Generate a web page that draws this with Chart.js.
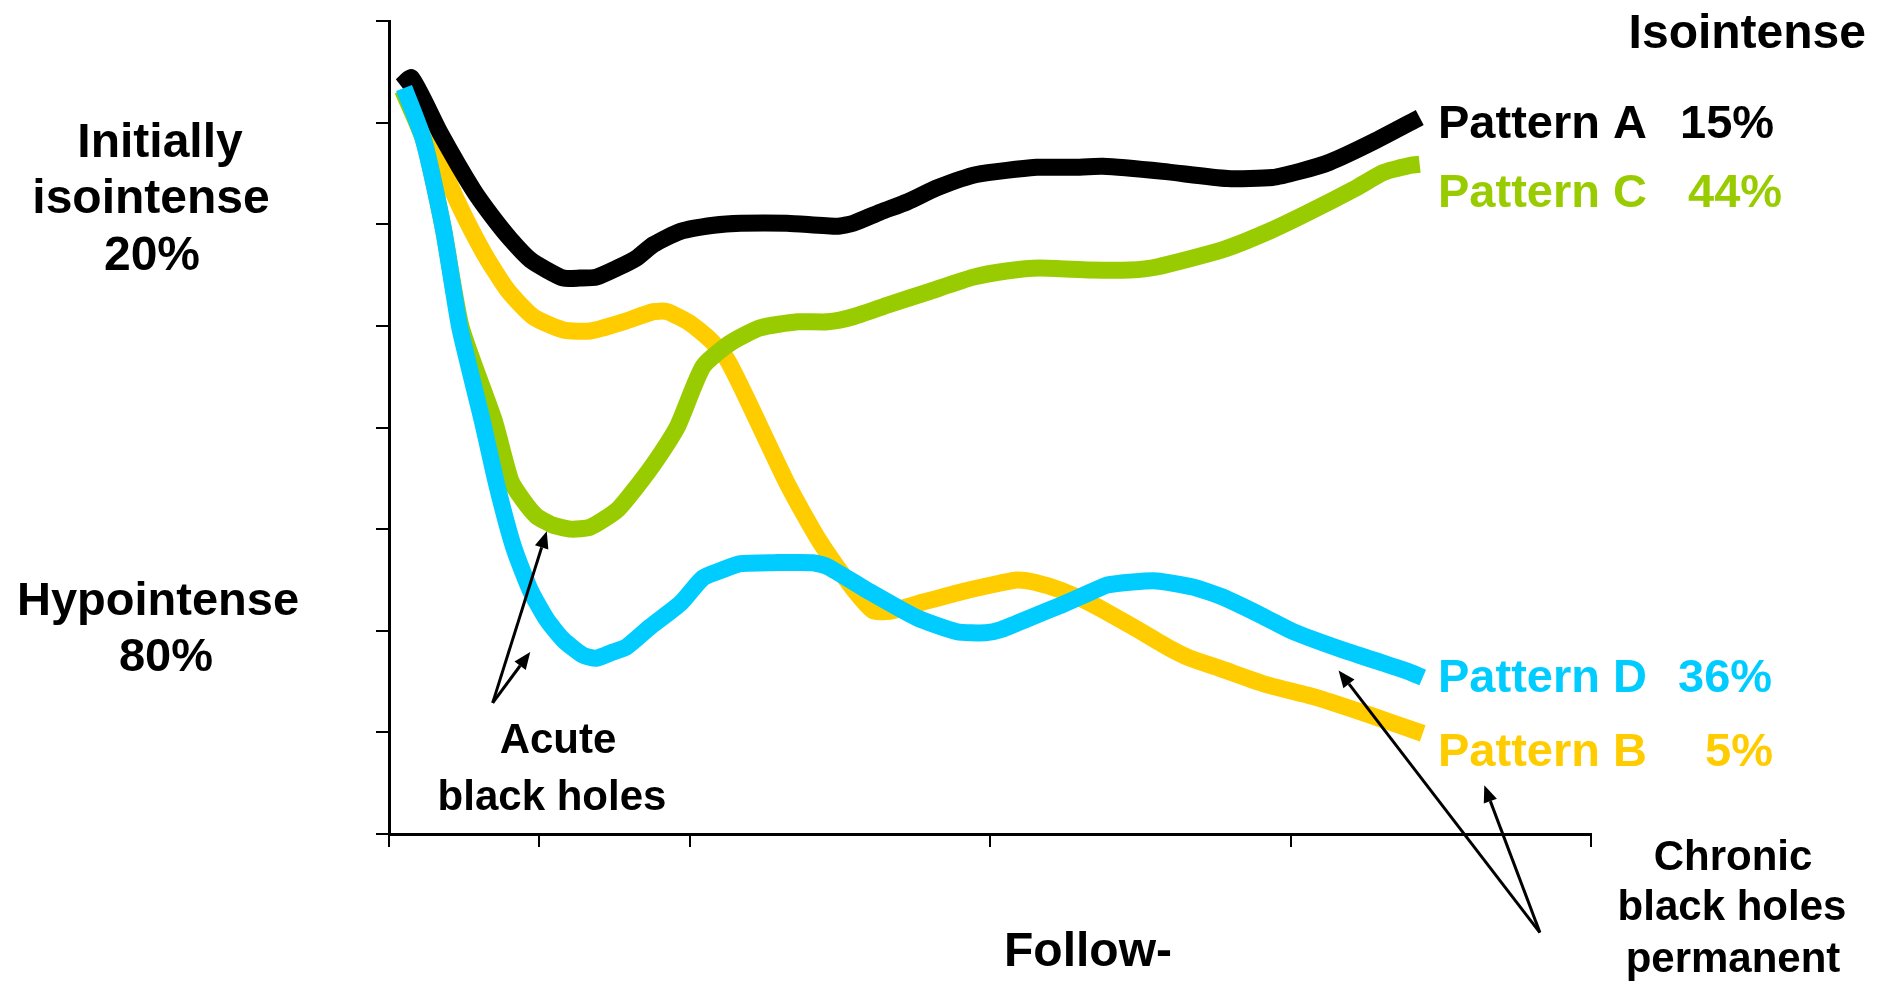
<!DOCTYPE html>
<html>
<head>
<meta charset="utf-8">
<title>Black hole evolution patterns</title>
<script src="https://cdn.jsdelivr.net/npm/chart.js@4.4.1/dist/chart.umd.min.js"></script>
<style>
  html, body { margin: 0; padding: 0; background: #ffffff; }
  #wrap { position: relative; width: 1890px; height: 982px; }
</style>
</head>
<body>
<div id="wrap"><canvas id="chart" width="1890" height="982"></canvas></div>
<script>
// Follow-up time (arbitrary units) and lesion intensity (0 = hypointense, 8 = isointense)
const timeA = [0.08,0.15,0.34,0.56,0.69,0.81,0.94,1.05,1.16,1.27,1.38,1.52,1.65,1.76,1.94,2.16,2.34,2.65,2.98,3.09,3.27,3.45,3.65,3.91,4.31,4.55,4.75,5.15,5.58,5.88,6.06,6.26,6.55,6.86];
const patternA = [7.36,7.44,6.90,6.34,6.07,5.85,5.65,5.55,5.47,5.47,5.48,5.57,5.67,5.80,5.93,5.99,6.01,6.01,5.98,6.01,6.12,6.22,6.36,6.49,6.56,6.56,6.57,6.52,6.45,6.46,6.52,6.61,6.81,7.05];

const timeC = [0.09,0.23,0.36,0.48,0.70,0.81,0.89,0.98,1.09,1.21,1.34,1.52,1.65,1.78,1.92,2.09,2.27,2.47,2.72,2.92,3.09,3.33,3.58,3.89,4.11,4.33,4.67,4.93,5.11,5.55,5.84,6.11,6.44,6.62,6.80,6.86];
const patternC = [7.32,6.83,5.97,4.99,4.07,3.48,3.29,3.13,3.04,3.00,3.02,3.19,3.42,3.68,4.01,4.60,4.83,4.98,5.04,5.04,5.09,5.21,5.33,5.48,5.54,5.57,5.55,5.55,5.58,5.75,5.92,6.11,6.36,6.51,6.58,6.59];

const timeB = [0.11,0.29,0.45,0.63,0.79,0.96,1.16,1.34,1.56,1.76,1.85,2.00,2.14,2.25,2.37,2.66,2.87,3.07,3.22,3.33,3.55,3.80,4.07,4.18,4.29,4.47,4.67,4.95,5.18,5.33,5.53,5.84,6.18,6.53,6.88];
const patternB = [7.34,6.80,6.24,5.72,5.35,5.09,4.96,4.95,5.04,5.14,5.14,5.03,4.86,4.67,4.32,3.42,2.87,2.45,2.20,2.19,2.28,2.38,2.47,2.50,2.48,2.40,2.27,2.04,1.84,1.73,1.63,1.47,1.34,1.17,0.99];

const timeD = [0.10,0.23,0.36,0.47,0.62,0.72,0.83,0.94,1.05,1.16,1.29,1.38,1.49,1.58,1.74,1.94,2.09,2.22,2.34,2.56,2.82,2.92,3.18,3.51,3.78,3.97,4.07,4.27,4.47,4.67,4.78,4.95,5.11,5.35,5.55,5.82,6.02,6.35,6.62,6.80,6.88];
const patternD = [7.34,6.83,5.97,4.99,4.07,3.42,2.82,2.40,2.11,1.91,1.76,1.73,1.79,1.84,2.04,2.27,2.52,2.60,2.66,2.67,2.67,2.63,2.40,2.13,1.99,1.98,2.01,2.13,2.25,2.38,2.45,2.48,2.49,2.43,2.33,2.14,1.99,1.81,1.68,1.59,1.54];

// Axis tick positions
const xTickValues = [0, 1, 2, 4, 6, 8];
const yTickValues = [0, 1, 2, 3, 4, 5, 6, 7, 8];

const toPoints = (xs, ys) => xs.map((x, i) => ({ x: x, y: ys[i] }));

const FONT = '"Liberation Sans", Arial, Helvetica, sans-serif';

// Text annotations around the plot (canvas pixel positions)
const textLabels = [
  { t: 'Isointense', x: 1866, y: 48, align: 'right', size: 48, color: '#000000' },
  { t: 'Initially', x: 160, y: 157, align: 'center', size: 48, color: '#000000' },
  { t: 'isointense', x: 151, y: 213, align: 'center', size: 48, color: '#000000' },
  { t: '20%', x: 152, y: 270, align: 'center', size: 48, color: '#000000' },
  { t: 'Hypointense', x: 158, y: 615, align: 'center', size: 47, color: '#000000' },
  { t: '80%', x: 166, y: 671, align: 'center', size: 47, color: '#000000' },
  { t: 'Pattern A', x: 1438, y: 138, align: 'left', size: 47, color: '#000000' },
  { t: '15%', x: 1680, y: 138, align: 'left', size: 47, color: '#000000' },
  { t: 'Pattern C', x: 1438, y: 207, align: 'left', size: 47, color: '#99CC00' },
  { t: '44%', x: 1688, y: 207, align: 'left', size: 47, color: '#99CC00' },
  { t: 'Pattern D', x: 1438, y: 692, align: 'left', size: 47, color: '#00CCFF' },
  { t: '36%', x: 1678, y: 692, align: 'left', size: 47, color: '#00CCFF' },
  { t: 'Pattern B', x: 1438, y: 766, align: 'left', size: 47, color: '#FFCC00' },
  { t: '5%', x: 1705, y: 766, align: 'left', size: 47, color: '#FFCC00' },
  { t: 'Acute', x: 558, y: 753, align: 'center', size: 42, color: '#000000' },
  { t: 'black holes', x: 552, y: 810, align: 'center', size: 42, color: '#000000' },
  { t: 'Chronic', x: 1733, y: 870, align: 'center', size: 42, color: '#000000' },
  { t: 'black holes', x: 1732, y: 920, align: 'center', size: 42, color: '#000000' },
  { t: 'permanent', x: 1733, y: 972, align: 'center', size: 42, color: '#000000' },
  { t: 'Follow-', x: 1088, y: 966, align: 'center', size: 48, color: '#000000' }
];

// Pointer arrows, given in data units (tail -> tip)
const arrows = [
  { from: [0.69, 1.29], to: [1.05, 2.98] },
  { from: [0.69, 1.29], to: [0.94, 1.79] },
  { from: [7.66, -0.97], to: [6.32, 1.61] },
  { from: [7.66, -0.97], to: [7.29, 0.48] }
];

const annotationPlugin = {
  id: 'annotations',
  afterDraw(chart) {
    const ctx = chart.ctx;
    const xs = chart.scales.x, ys = chart.scales.y;
    ctx.save();
    // arrows
    ctx.strokeStyle = '#000000';
    ctx.fillStyle = '#000000';
    ctx.lineWidth = 3;
    arrows.forEach(a => {
      const x0 = xs.getPixelForValue(a.from[0]), y0 = ys.getPixelForValue(a.from[1]);
      const x1 = xs.getPixelForValue(a.to[0]), y1 = ys.getPixelForValue(a.to[1]);
      const ang = Math.atan2(y1 - y0, x1 - x0);
      const len = 17, half = 7;
      const bx = x1 - len * Math.cos(ang), by = y1 - len * Math.sin(ang);
      ctx.beginPath();
      ctx.moveTo(x0, y0);
      ctx.lineTo(bx, by);
      ctx.stroke();
      ctx.beginPath();
      ctx.moveTo(x1, y1);
      ctx.lineTo(bx + half * Math.sin(ang), by - half * Math.cos(ang));
      ctx.lineTo(bx - half * Math.sin(ang), by + half * Math.cos(ang));
      ctx.closePath();
      ctx.fill();
    });
    // text
    ctx.textBaseline = 'alphabetic';
    textLabels.forEach(l => {
      ctx.font = 'bold ' + l.size + 'px ' + FONT;
      ctx.fillStyle = l.color;
      ctx.textAlign = l.align;
      ctx.fillText(l.t, l.x, l.y);
    });
    ctx.restore();
  }
};

const lineStyle = {
  borderWidth: 17,
  pointRadius: 0,
  fill: false,
  tension: 0.2,
  borderCapStyle: 'butt',
  borderJoinStyle: 'round'
};

new Chart(document.getElementById('chart'), {
  type: 'line',
  data: {
    datasets: [
      Object.assign({ label: 'Pattern D', data: toPoints(timeD, patternD), borderColor: '#00CCFF', order: 0 }, lineStyle),
      Object.assign({ label: 'Pattern A', data: toPoints(timeA, patternA), borderColor: '#000000', order: 1 }, lineStyle),
      Object.assign({ label: 'Pattern C', data: toPoints(timeC, patternC), borderColor: '#99CC00', order: 2 }, lineStyle),
      Object.assign({ label: 'Pattern B', data: toPoints(timeB, patternB), borderColor: '#FFCC00', order: 3 }, lineStyle)
    ]
  },
  options: {
    responsive: false,
    animation: false,
    devicePixelRatio: 1,
    layout: { padding: { left: 376, top: 21, right: 299, bottom: 135 } },
    plugins: { legend: { display: false }, tooltip: { enabled: false } },
    scales: {
      x: {
        type: 'linear',
        min: 0,
        max: 8,
        afterBuildTicks: s => { s.ticks = xTickValues.map(v => ({ value: v })); },
        ticks: { display: false },
        grid: { drawOnChartArea: false, drawTicks: true, tickLength: 13, color: '#000000', lineWidth: 2 },
        border: { display: true, color: '#000000', width: 3 }
      },
      y: {
        type: 'linear',
        min: 0,
        max: 8,
        afterBuildTicks: s => { s.ticks = yTickValues.map(v => ({ value: v })); },
        ticks: { display: false },
        grid: { drawOnChartArea: false, drawTicks: true, tickLength: 13, color: '#000000', lineWidth: 2 },
        border: { display: true, color: '#000000', width: 3 }
      }
    }
  },
  plugins: [annotationPlugin]
});
</script>
</body>
</html>
